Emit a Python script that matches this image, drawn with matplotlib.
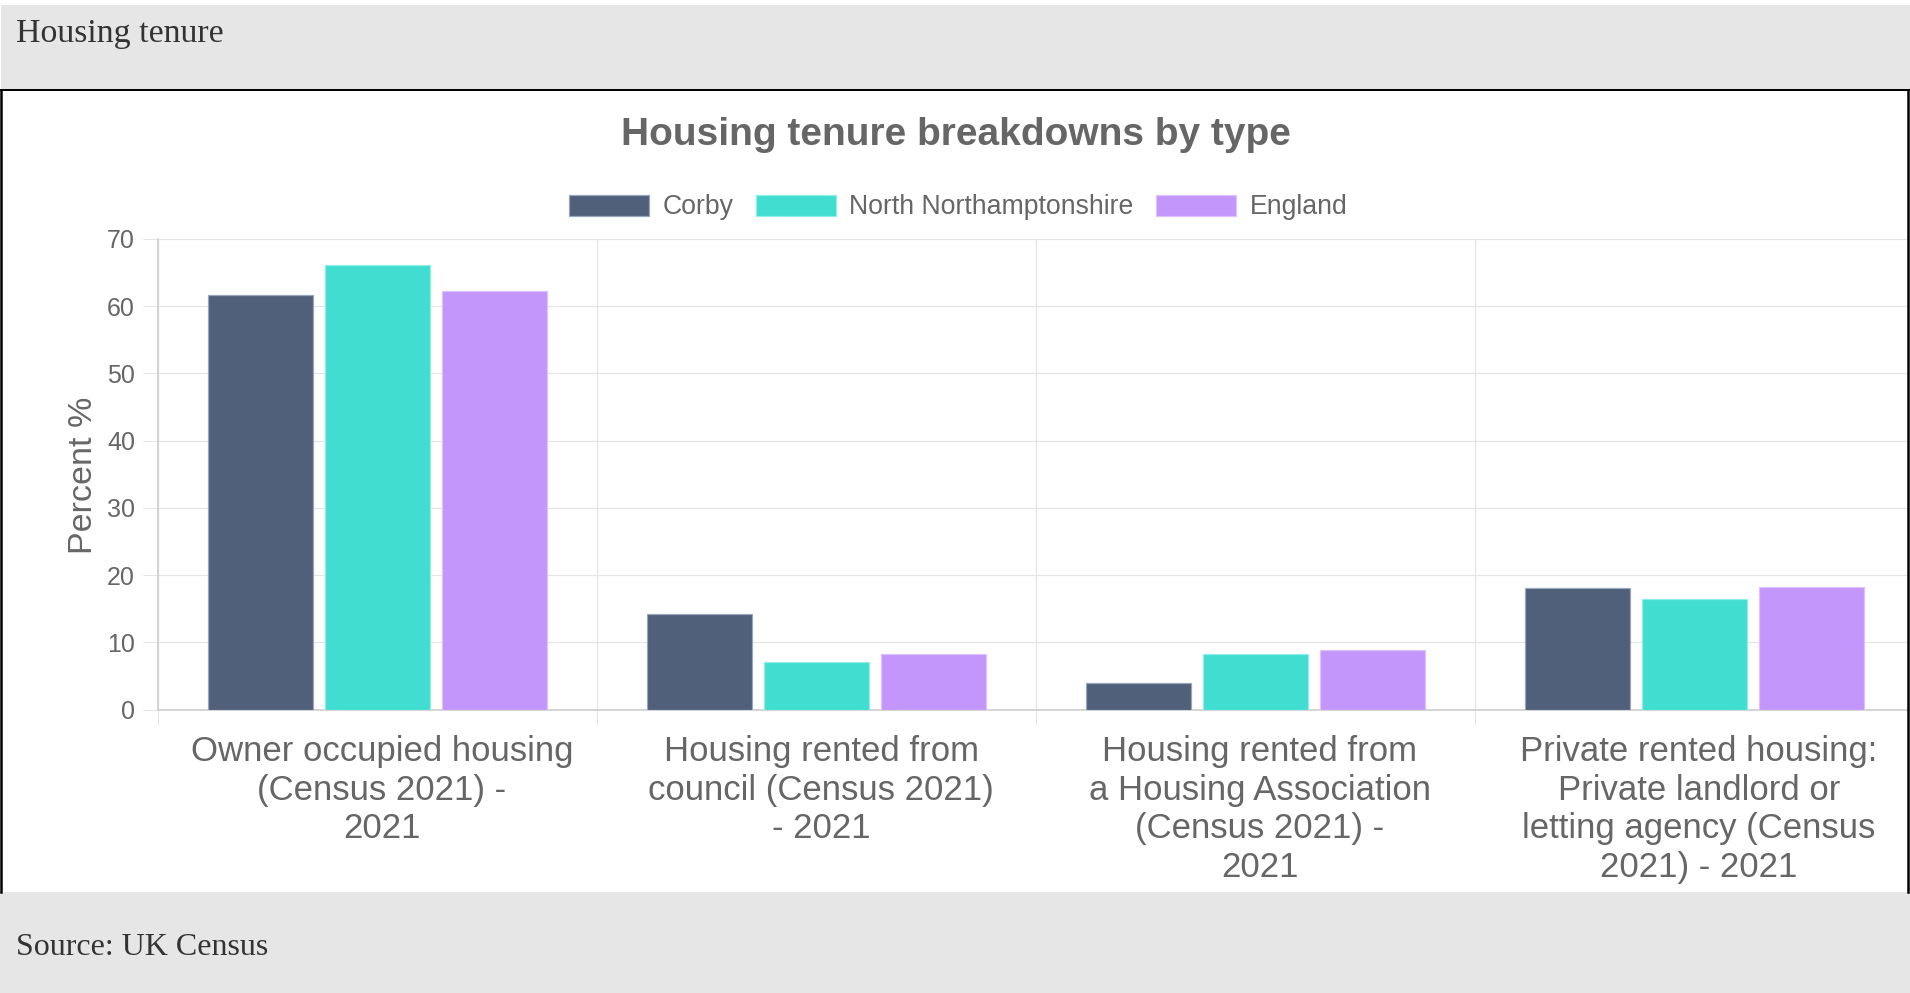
import matplotlib
matplotlib.use("Agg")
import matplotlib.pyplot as plt
from matplotlib.patches import Rectangle, Patch
from matplotlib.lines import Line2D
import matplotlib.transforms as mtransforms
import numpy as np

plt.rcParams['font.family'] = ['Liberation Sans', 'DejaVu Sans']

# ---------------- data ----------------
categories = [
    "Owner occupied housing\n(Census 2021) -\n2021",
    "Housing rented from\ncouncil (Census 2021)\n- 2021",
    "Housing rented from\na Housing Association\n(Census 2021) -\n2021",
    "Private rented housing:\nPrivate landlord or\nletting agency (Census\n2021) - 2021",
]
series_names = ["Corby", "North Northamptonshire", "England"]
corby = [61.6, 14.2, 4.0, 18.1]
north_northants = [66.2, 7.0, 8.2, 16.5]
england = [62.3, 8.3, 8.8, 18.2]
series_values = [corby, north_northants, england]
y_ticks = [0, 10, 20, 30, 40, 50, 60, 70]

colors = ["#50607a", "#40ddd0", "#c396fc"]
edge_colors = ["#9aa6bb", "#8ff0e6", "#dcc3fd"]

W, H = 1910, 993
DPI = 100
fig = plt.figure(figsize=(W / DPI, H / DPI), dpi=DPI)
fig.patch.set_facecolor("white")

def px(v):  # pixels -> points
    return v * 72.0 / DPI

def fx(x):
    return x / W

def fy(y):
    return 1 - y / H

# header / footer bands
fig.patches.append(Rectangle((fx(1), fy(89.5)), fx(W) - fx(1), fy(5) - fy(89.5),
                             transform=fig.transFigure, facecolor="#e6e6e6",
                             edgecolor="none", zorder=0))
fig.patches.append(Rectangle((0, 0), 1, fy(892), transform=fig.transFigure,
                             facecolor="#e6e6e6", edgecolor="none", zorder=0))
# black borders of chart box
fig.add_artist(Line2D([0, 1], [fy(90), fy(90)], transform=fig.transFigure,
                      color="black", lw=px(2)))
fig.add_artist(Line2D([fx(1), fx(1)], [fy(90), fy(892)], transform=fig.transFigure,
                      color="black", lw=px(2.5)))
fig.add_artist(Line2D([fx(1908), fx(1908)], [fy(90), fy(892)], transform=fig.transFigure,
                      color="black", lw=px(2.5)))

serif = ['Liberation Serif', 'DejaVu Serif']
fig.text(fx(16), fy(42), "Housing tenure", family=serif, fontsize=24.4,
         color="#333333", ha="left", va="baseline")
fig.text(fx(16), fy(955), "Source: UK Census", family=serif, fontsize=23,
         color="#333333", ha="left", va="baseline")

# title
fig.text(fx(956), fy(145), "Housing tenure breakdowns by type", fontsize=28,
         fontweight="bold", color="#666666", ha="center", va="baseline")

# axes
left, right = 158, 1914
bottom, top = 709.5, 239
ax = fig.add_axes([fx(left), fy(bottom), fx(right) - fx(left), fy(top) - fy(bottom)])
ax.set_facecolor("none")

n = len(categories)
x = np.arange(n)
slot = 0.8 / 3
bw = slot * 0.9
for i, (vals, c, ec, name) in enumerate(zip(series_values, colors, edge_colors, series_names)):
    ax.bar(x + (i - 1) * slot, vals, width=bw, color=c, edgecolor=ec,
           linewidth=px(1.2), zorder=3, label=name)

ax.set_xlim(-0.5, n - 0.5)
ax.set_ylim(0, 70)
ax.set_yticks(y_ticks)
ax.set_yticklabels([str(t) for t in y_ticks])

grid_c = "#e4e4e4"
# x: boundaries as major ticks (gridlines), labels as minor ticks
ax.set_xticks(np.arange(-0.5, n, 1.0))
ax.set_xticklabels([""] * (n + 1))
ax.set_xticks(x, minor=True)
ax.set_xticklabels(categories, minor=True)
ax.tick_params(axis="x", which="major", length=px(15), width=px(1), color=grid_c)
ax.tick_params(axis="x", which="minor", length=0, pad=px(26), labelsize=25,
               labelcolor="#666666")
shift = mtransforms.ScaledTranslation(4.5 / DPI, 0, fig.dpi_scale_trans)
for lab in ax.get_xticklabels(minor=True):
    lab.set_linespacing(1.21)
    lab.set_ha("center")
    lab.set_transform(lab.get_transform() + shift)

ax.tick_params(axis="y", length=px(15), width=px(1), color=grid_c, pad=px(8),
               labelsize=18, labelcolor="#666666")

ax.grid(True, which="major", axis="both", color=grid_c, linewidth=px(1.2), zorder=0)
ax.set_axisbelow(True)
for s in ["top", "right"]:
    ax.spines[s].set_visible(False)
for s in ["left", "bottom"]:
    ax.spines[s].set_color("#cccccc")
    ax.spines[s].set_linewidth(px(1.6))

# y label
fig.text(fx(83), fy(475), "Percent %", rotation=90, fontsize=24.5, color="#666666",
         ha="center", va="center")

# legend
handles = [Patch(facecolor=c, edgecolor=ec, linewidth=px(1.2)) for c, ec in zip(colors, edge_colors)]
leg = fig.legend(handles, series_names, loc="center", bbox_to_anchor=(fx(958), fy(207.5)),
                 ncol=3, frameon=False, fontsize=19.2, handlelength=3.0, handleheight=0.86,
                 handletextpad=0.5, columnspacing=0.85, borderpad=0, borderaxespad=0)
for t in leg.get_texts():
    t.set_color("#666666")

fig.savefig("out.png", dpi=DPI)
